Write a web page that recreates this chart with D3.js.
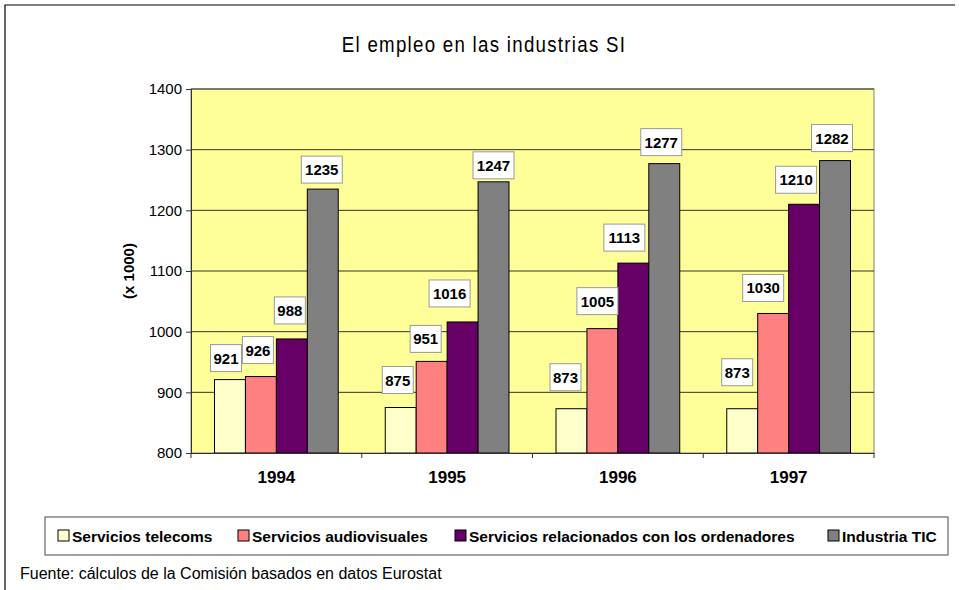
<!DOCTYPE html>
<html>
<head>
<meta charset="utf-8">
<script src="https://cdn.jsdelivr.net/npm/d3@7"></script>
<style>
  html,body{margin:0;padding:0;background:#fff;}
  svg{display:block;}
</style>
</head>
<body>
<div id="chart"></div>
<script>
// datos
const years=["1994","1995","1996","1997"];
const series=["Servicios telecoms","Servicios audiovisuales","Servicios relacionados con los ordenadores","Industria TIC"];
const telecoms=[921,875,873,873];
const audiovisuales=[926,951,1005,1030];
const ordenadores=[988,1016,1113,1210];
const tic=[1235,1247,1277,1282];
const yTicks=[800,900,1000,1100,1200,1300,1400];

const colors=["#FFFFCC","#FF8080","#660066","#808080"];
// desplazamiento de las etiquetas (dx, separación sobre la barra), por año y serie
const labelOff=[
  [[-4,8],[-3,13],[-2,15],[-1,6]],
  [[-3,14],[-6,9],[-13,15],[0,3]],
  [[-6,18],[-5,14],[-9,12],[-3,8]],
  [[-5,23],[-10,12],[-8,11],[-3,9]]
];

const W=959,H=590;
const M={l:191,r:874,t:89,b:453};
const svg=d3.select("#chart").append("svg").attr("width",W).attr("height",H);
const FF="'Liberation Sans',Arial,sans-serif";

// marco
svg.append("path").attr("d",`M5,${H} V5 H955`).attr("fill","none").attr("stroke","#000").attr("stroke-width",1.2);

// título
svg.append("text").attr("transform","translate(484,52) scale(0.85,1)").attr("text-anchor","middle")
  .attr("font-family",FF).attr("font-size",22).attr("letter-spacing",1.5)
  .attr("fill","#000").text("El empleo en las industrias SI");

const x0=d3.scaleBand().domain(years).range([M.l,M.r]).paddingInner(0).paddingOuter(0);
const x1=d3.scaleBand().domain(d3.range(4)).range([0,x0.bandwidth()]).paddingOuter(0.76).paddingInner(0);
const y=d3.scaleLinear().domain([800,1400]).range([M.b,M.t]);

// fondo
svg.append("rect").attr("x",M.l).attr("y",M.t).attr("width",M.r-M.l).attr("height",M.b-M.t)
  .attr("fill","#FFFF99").attr("stroke","#808080").attr("stroke-width",1);

// rejilla
svg.append("g").selectAll("line").data(yTicks.slice(1)).join("line")
  .attr("x1",M.l).attr("x2",M.r).attr("y1",d=>y(d)).attr("y2",d=>y(d))
  .attr("stroke","#333").attr("stroke-width",1);

// eje y
const ya=svg.append("g").attr("transform",`translate(${M.l},0)`)
  .call(d3.axisLeft(y).tickValues(yTicks).tickSize(5).tickPadding(4).tickFormat(d3.format("d")));
ya.select(".domain").attr("stroke","#333");
ya.selectAll(".tick line").attr("stroke","#333");
ya.selectAll("text").attr("font-family",FF).attr("font-size",15).attr("fill","#000");

svg.append("text").attr("transform",`translate(134,${(M.t+M.b)/2}) rotate(-90)`)
  .attr("text-anchor","middle").attr("font-family",FF).attr("font-size",15).attr("font-weight","bold")
  .text("(x 1000)");

// barras
const vals=years.map((yr,i)=>[telecoms[i],audiovisuales[i],ordenadores[i],tic[i]]);
const grp=svg.append("g").selectAll("g").data(years).join("g")
  .attr("transform",d=>`translate(${x0(d)},0)`);
grp.selectAll("rect").data((d,i)=>vals[i].map((v,k)=>({v,k}))).join("rect")
  .attr("x",d=>x1(d.k)).attr("width",x1.bandwidth())
  .attr("y",d=>y(d.v)).attr("height",d=>y(800)-y(d.v))
  .attr("fill",d=>colors[d.k]).attr("stroke","#000").attr("stroke-width",1);

// eje x
const xa=svg.append("g").attr("transform",`translate(0,${M.b})`)
  .call(d3.axisBottom(x0).tickSize(0).tickPadding(18));
xa.select(".domain").attr("stroke","#333");
xa.selectAll("text").attr("font-family",FF).attr("font-size",17).attr("font-weight","bold").attr("fill","#000");
svg.append("g").selectAll("line").data(years).join("line")
  .attr("x1",d=>x0(d)).attr("x2",d=>x0(d)).attr("y1",M.b).attr("y2",M.b+5)
  .attr("stroke","#333");
svg.append("line").attr("x1",M.r).attr("x2",M.r).attr("y1",M.b).attr("y2",M.b+5).attr("stroke","#333");

// etiquetas de datos
years.forEach((yr,i)=>{
  vals[i].forEach((v,k)=>{
    const [dx,gap]=labelOff[i][k];
    const cx=x0(yr)+x1(k)+x1.bandwidth()/2+dx;
    const bottom=y(v)-gap;
    const txt=String(v);
    const bw=txt.length===4?41:31,bh=27;
    svg.append("rect").attr("x",cx-bw/2).attr("y",bottom-bh).attr("width",bw).attr("height",bh)
      .attr("fill","#fff").attr("stroke","#999").attr("stroke-width",1);
    svg.append("text").attr("x",cx).attr("y",bottom-bh/2+5.5).attr("text-anchor","middle")
      .attr("font-family",FF).attr("font-size",15).attr("font-weight","bold").attr("fill","#000").text(txt);
  });
});

// leyenda
svg.append("rect").attr("x",45).attr("y",517).attr("width",903).attr("height",38)
  .attr("fill","#fff").attr("stroke","#666").attr("stroke-width",1.2);
const legX=[58,238,455,828];
series.forEach((s,k)=>{
  svg.append("rect").attr("x",legX[k]).attr("y",530).attr("width",11).attr("height",11)
    .attr("fill",colors[k]).attr("stroke","#000").attr("stroke-width",1);
  svg.append("text").attr("x",legX[k]+14).attr("y",541.5).attr("font-family",FF).attr("font-size",15.5)
    .attr("font-weight","bold").attr("fill","#000").text(s);
});

// fuente
svg.append("text").attr("x",20).attr("y",579).attr("font-family",FF).attr("font-size",16)
  .attr("fill","#000").text("Fuente: cálculos de la Comisión basados en datos Eurostat");
</script>
</body>
</html>
